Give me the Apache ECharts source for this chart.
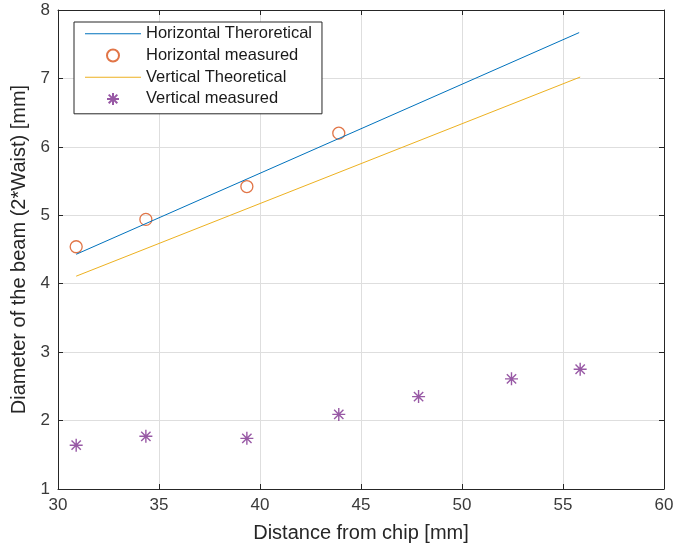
<!DOCTYPE html>
<html>
<head>
    <meta charset="utf-8" />
    <script src="https://cdn.jsdelivr.net/npm/echarts@6/dist/echarts.min.js"></script>
    <style>
        html, body { margin: 0; padding: 0; background: #fff; }
        #chart { width: 674px; height: 550px; }
    </style>
</head>
<body>
    <div id="chart"></div>
<script type="text/javascript">
    // values
    var horizTheory = [[30.9, 4.43], [55.8, 7.67]];
    var horizMeasured = [[30.9, 4.54], [34.35, 4.94], [39.35, 5.42], [43.9, 6.2]];
    var vertTheory = [[30.9, 4.11], [55.85, 7.02]];
    var vertMeasured = [[30.9, 1.64], [34.35, 1.77], [39.35, 1.74], [43.9, 2.09], [47.85, 2.35], [52.45, 2.61], [55.85, 2.75]];

    var xTicks = [30, 35, 40, 45, 50, 55, 60];
    var yTicks = [1, 2, 3, 4, 5, 6, 7, 8];

    var names = ['Horizontal Theroretical', 'Horizontal measured', 'Vertical Theoretical', 'Vertical measured'];

    var font = 'Liberation Sans, Arial, Helvetica, sans-serif';
    var axisColor = '#262626';
    var gridColor = '#dedede';
    var star = 'path://M0,-6L0,6M-6,0L6,0M-4.3,-4.3L4.3,4.3M-4.3,4.3L4.3,-4.3';
    var lineIcon = 'path://M0,0H56V1H0Z';

    function boxAxis(pos, ticks, step) {
        return {
            type: 'value',
            position: pos,
            min: ticks[0],
            max: ticks[ticks.length - 1],
            interval: step,
            axisLine: { show: true, lineStyle: { color: axisColor, width: 1 } },
            axisTick: { show: true, inside: true, length: 5, lineStyle: { color: axisColor } },
            axisLabel: { show: false },
            splitLine: { show: false }
        };
    }

    var chart = echarts.init(document.getElementById('chart'));

    var option = {
        animation: false,
        backgroundColor: '#fff',
        textStyle: { fontFamily: font },
        grid: { left: 58, right: 10, top: 10, bottom: 61, containLabel: false, outerBoundsMode: 'none' },
        legend: {
            data: [
                { name: names[0], icon: lineIcon },
                { name: names[1] },
                { name: names[2], icon: lineIcon },
                { name: names[3] }
            ],
            orient: 'vertical',
            left: 74,
            top: 22,
            padding: [1, 10, 4, 11],
            itemWidth: 56,
            itemHeight: 12,
            itemGap: 0,
            backgroundColor: '#fff',
            borderColor: axisColor,
            borderWidth: 1,
            textStyle: { fontFamily: font, fontSize: 16.5, color: '#1a1a1a', lineHeight: 21.7 }
        },
        xAxis: [{
            type: 'value',
            min: xTicks[0],
            max: xTicks[xTicks.length - 1],
            interval: 5,
            name: 'Distance from chip [mm]',
            nameLocation: 'middle',
            nameGap: 34,
            nameTextStyle: { fontFamily: font, fontSize: 20, color: axisColor },
            axisLine: { show: true, lineStyle: { color: axisColor, width: 1 } },
            axisTick: { show: true, inside: true, length: 5, lineStyle: { color: axisColor } },
            axisLabel: { fontFamily: font, fontSize: 17, color: '#3a3a3a', margin: 8 },
            splitLine: { show: true, lineStyle: { color: gridColor, width: 1 } }
        }, boxAxis('top', xTicks, 5)],
        yAxis: [{
            type: 'value',
            min: yTicks[0],
            max: yTicks[yTicks.length - 1],
            interval: 1,
            name: 'Diameter of the beam (2*Waist) [mm]',
            nameLocation: 'middle',
            nameGap: 27,
            nameRotate: 90,
            nameTextStyle: { fontFamily: font, fontSize: 20, color: axisColor },
            axisLine: { show: true, lineStyle: { color: axisColor, width: 1 } },
            axisTick: { show: true, inside: true, length: 5, lineStyle: { color: axisColor } },
            axisLabel: { fontFamily: font, fontSize: 17, color: '#3a3a3a', margin: 8 },
            splitLine: { show: true, lineStyle: { color: gridColor, width: 1 } }
        }, boxAxis('right', yTicks, 1)],
        series: [
            {
                name: names[0],
                type: 'line',
                data: horizTheory,
                symbol: 'none',
                color: '#0072BD',
                lineStyle: { color: '#0072BD', width: 1 }
            },
            {
                name: names[1],
                type: 'scatter',
                data: horizMeasured,
                symbol: 'circle',
                symbolSize: 12,
                itemStyle: { color: 'rgba(0,0,0,0)', borderColor: '#D95319', borderWidth: 1.3 }
            },
            {
                name: names[2],
                type: 'line',
                data: vertTheory,
                symbol: 'none',
                color: '#EDB120',
                lineStyle: { color: '#EDB120', width: 1 }
            },
            {
                name: names[3],
                type: 'scatter',
                data: vertMeasured,
                symbol: star,
                symbolSize: 13,
                itemStyle: { color: 'rgba(0,0,0,0)', borderColor: '#7E2F8E', borderWidth: 1.4 }
            }
        ]
    };
    chart.setOption(option);
</script>
</body>
</html>
